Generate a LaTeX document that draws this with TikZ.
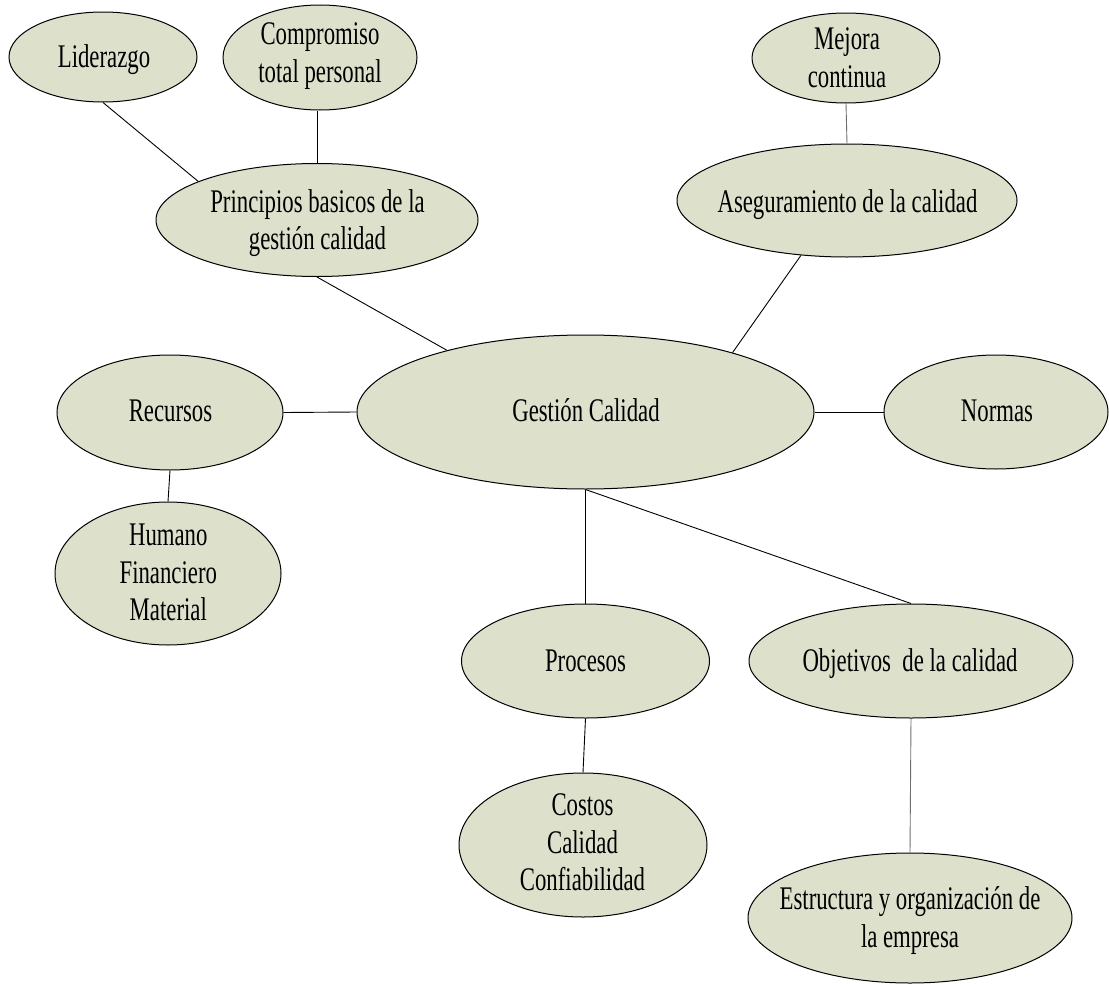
\documentclass[tikz,border=0pt]{standalone}
\usepackage{fontspec}
\setmainfont{Liberation Serif}[FakeStretch=0.69]
\usetikzlibrary{shapes.geometric}
\definecolor{bubfill}{RGB}{221,225,204}
\definecolor{linkgray}{RGB}{110,110,110}
% every text line gets the same height and depth
\newcommand\bubstrut{\rule[-6pt]{0pt}{32pt}}
\begin{document}
\begin{tikzpicture}[x=1pt,y=-1pt,
  bub/.style={ellipse, draw=black, line width=1pt, fill=bubfill, inner sep=0pt},
  lbl/.style={inner sep=0pt, align=center, font=\fontsize{33}{37.5}\selectfont},
  link/.style={draw=black, line width=0.9pt},
  softlink/.style={draw=linkgray, line width=0.9pt}]
\useasboundingbox (0,0) rectangle (1109,985);

% bubbles
\node[bub, minimum width=188pt, minimum height=90pt]  (lid)  at (103,57)    {};
\node[bub, minimum width=194pt, minimum height=105pt] (comp) at (320,57.5)  {};
\node[bub, minimum width=188pt, minimum height=90pt]  (mej)  at (846,58)    {};
\node[bub, minimum width=322pt, minimum height=113pt] (prin) at (317,220)   {};
\node[bub, minimum width=340pt, minimum height=113pt] (aseg) at (847,200.5) {};
\node[bub, minimum width=457pt, minimum height=154pt] (ges)  at (585.5,412) {};
\node[bub, minimum width=226pt, minimum height=115pt] (rec)  at (170,412.5) {};
\node[bub, minimum width=224pt, minimum height=114pt] (norm) at (996,412)   {};
\node[bub, minimum width=226pt, minimum height=143pt] (hum)  at (168,573.5) {};
\node[bub, minimum width=248pt, minimum height=114pt] (proc) at (585.5,661) {};
\node[bub, minimum width=324pt, minimum height=114pt] (obj)  at (911,661)   {};
\node[bub, minimum width=248pt, minimum height=144pt] (cost) at (583,845)   {};
\node[bub, minimum width=324pt, minimum height=130pt] (est)  at (910,918)   {};

% texts
\node[lbl] (lid-t)  at (104,58)     {\bubstrut Liderazgo};
\node[lbl] (comp-t) at (320,54)     {\bubstrut Compromiso\\\bubstrut total personal};
\node[lbl] (mej-t)  at (847,58.5)   {\bubstrut Mejora\\\bubstrut continua};
\node[lbl] (prin-t) at (317.5,221.5){\bubstrut Principios basicos de la\\\bubstrut gestión calidad};
\node[lbl] (aseg-t) at (847.5,203)  {\bubstrut Aseguramiento de la calidad};
\node[lbl] (ges-t)  at (586,411.7)  {\bubstrut Gestión Calidad};
\node[lbl] (rec-t)  at (170.5,411.7){\bubstrut Recursos};
\node[lbl] (norm-t) at (997,411.7)  {\bubstrut Normas};
\node[lbl] (hum-t)  at (168.3,573.3){\bubstrut Humano\\\bubstrut Financiero\\\bubstrut Material};
\node[lbl] (proc-t) at (585.5,661.7){\bubstrut Procesos};
\node[lbl] (obj-t)  at (910,661.7)  {\bubstrut Objetivos\ \ de la calidad};
\node[lbl] (cost-t) at (582.5,843.3){\bubstrut Costos\\\bubstrut Calidad\\\bubstrut Confiabilidad};
\node[lbl] (est-t)  at (910,919.2)  {\bubstrut Estructura y organización de\\\bubstrut la empresa};

% connectors
\draw[link] (lid.south) -- (prin.162.6);
\draw[link] (prin.north) -- (prin.north |- comp.south);
\draw[softlink] (mej.south) -- (aseg.north);
\draw[link] (prin.south) -- (ges.156.5);
\draw[link] (aseg.230.2) -- (ges.22.1);
\draw[link] (rec.east) -- (ges.west);
\draw[link] (ges.east) -- (norm.west);
\draw[link] (rec.south) -- (hum.north);
\draw[link] (ges.south) -- (proc.north);
\draw[link] (ges.south) -- (obj.north);
\draw[link] (proc.south) -- (cost.north);
\draw[softlink] (obj.south) -- (est.north);
\end{tikzpicture}
\end{document}
